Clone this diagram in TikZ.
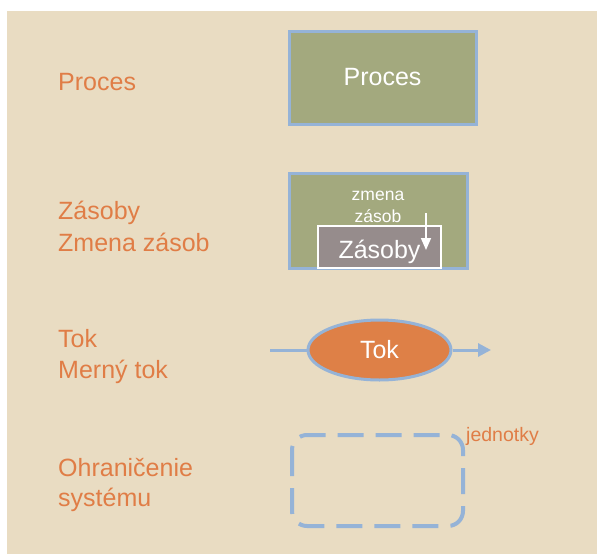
\documentclass[tikz,border=0pt]{standalone}
\usepackage{fontspec}
\setmainfont{Liberation Sans}
\usetikzlibrary{arrows.meta,shapes.geometric}
\definecolor{bg}{RGB}{233,220,194}
\definecolor{lbl}{RGB}{224,125,70}
\definecolor{olive}{RGB}{163,169,126}
\definecolor{edge}{RGB}{149,179,215}
\definecolor{stock}{RGB}{150,140,140}
\definecolor{flow}{RGB}{222,128,71}

\begin{document}
\begin{tikzpicture}[x=1pt,y=-1pt,
  legend/.style={anchor=base west, text=lbl, inner sep=0pt, font=\fontsize{25}{30}\selectfont},
  whitetext/.style={text=white, inner sep=0pt},
  bigtext/.style={whitetext, font=\fontsize{25}{30}\selectfont},
  smalltext/.style={whitetext, anchor=base, font=\fontsize{17.5}{21}\selectfont},
  procbox/.style={draw=edge, line width=3pt, fill=olive, inner sep=0pt},
  stockbox/.style={draw=white, line width=2pt, fill=stock, inner sep=0pt},
  flowshape/.style={ellipse, draw=edge, line width=3pt, fill=flow, inner sep=0pt},
  flowline/.style={draw=edge, line width=3pt},
  boundary/.style={draw=edge, line width=4pt, dash pattern=on 26pt off 12pt, rounded corners=15pt}
]
\useasboundingbox (0,0) rectangle (597,554);
\fill[bg] (7,11) rectangle (597,554);

% legend texts on the left
\node[legend] (lproc)  at (58,90)  {Proces};
\node[legend] (lstock) at (58,219) {Zásoby};
\node[legend] (lchg)   at (58,251) {Zmena zásob};
\node[legend] (ltok)   at (58,347) {Tok};
\node[legend] (lrate)  at (58,378) {Merný tok};
\node[legend] (lbound) at (58,476) {Ohraničenie};
\node[legend] (lsys)   at (58,506) {systému};

% process
\node[procbox, bigtext, minimum width=187pt, minimum height=93pt] (proc) at (382.5,77.5) {Proces};

% stock with its change
\node[procbox, minimum width=178pt, minimum height=95pt] (stockframe) at (378,220.5) {};
\node[stockbox, minimum width=123pt, minimum height=42pt] (stock) at (379.5,247) {};
\node[bigtext, anchor=base] (stocklabel) at (379.5,258) {Zásoby};
\node[smalltext] (chg1) at (378,200) {zmena};
\node[smalltext] (chg2) at (378,222) {zásob};
\coordinate (chgfrom) at (426,213);
\coordinate (chgto) at (426,250);
\draw[white, line width=1.6pt, -{Triangle[width=10pt,length=12pt]}] (chgfrom) -- (chgto);

% flow
\node[flowshape, minimum width=143pt, minimum height=60pt] (tok) at (379.5,350) {};
\coordinate (tokin) at (270,350);
\coordinate (tokout) at (491,350);
\draw[flowline] (tokin) -- (tok.west);
\draw[flowline, -{Triangle[width=13pt,length=13pt]}] (tok.east) -- (tokout);
\node[bigtext] (toklabel) at (379.5,350) {Tok};

% system boundary
\draw[boundary] (292,435) rectangle (463,526);
\node[anchor=base west, text=lbl, inner sep=0pt, font=\fontsize{19.5}{23}\selectfont] (units) at (466,441) {jednotky};
\end{tikzpicture}
\end{document}
